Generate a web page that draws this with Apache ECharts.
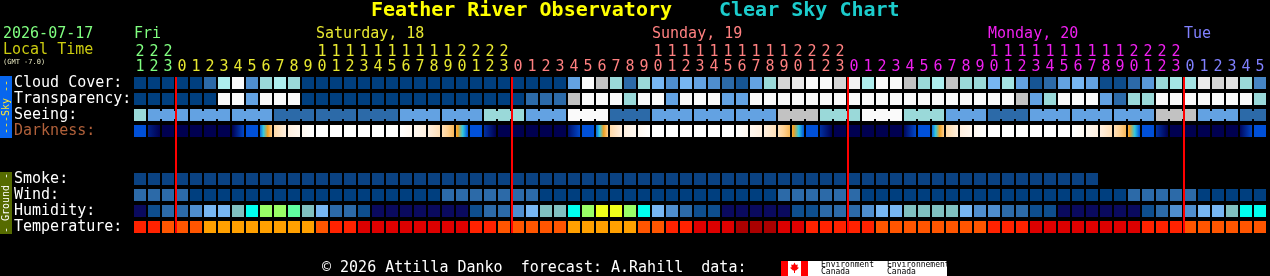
<!DOCTYPE html>
<html>
<head>
<meta charset="utf-8">
<title>Feather River Observatory - Clear Sky Chart</title>
<script src="https://cdn.jsdelivr.net/npm/echarts@6.0.0/dist/echarts.min.js"></script>
<style>
    html, body { margin: 0; padding: 0; background: #000; }
    #csc { width: 1270px; height: 276px; }
</style>
</head>
<body>
<div id="csc"></div>
<script>
// local time (GMT -7), one column per hour
var hours = [21, 22, 23,
    0, 1, 2, 3, 4, 5, 6, 7, 8, 9, 10, 11, 12, 13, 14, 15, 16, 17, 18, 19, 20, 21, 22, 23,
    0, 1, 2, 3, 4, 5, 6, 7, 8, 9, 10, 11, 12, 13, 14, 15, 16, 17, 18, 19, 20, 21, 22, 23,
    0, 1, 2, 3, 4, 5, 6, 7, 8, 9, 10, 11, 12, 13, 14, 15, 16, 17, 18, 19, 20, 21, 22, 23,
    0, 1, 2, 3, 4, 5];
var dayNames = ['Fri', 'Saturday, 18', 'Sunday, 19', 'Monday, 20', 'Tue'];
var rowNames = ['Cloud Cover:', 'Transparency:', 'Seeing:', 'Darkness:', ' ', '  ',
    'Smoke:', 'Wind:', 'Humidity:', 'Temperature:'];

// cloud cover, %
var cloud = [0, 0, 0, 0, 0, 10, 70, 100, 30, 60, 70, 60,
    0, 0, 0, 0, 0, 0, 0, 0, 0, 0, 0, 0, 0, 0, 0, 0, 0, 0, 0,
    40, 100, 80, 60, 10, 60, 50, 30, 50, 40, 30, 10, 5, 40, 60, 85, 90, 100, 100, 85,
    95, 70, 100, 100, 80, 60, 70, 80, 60, 60, 50, 65, 40, 5, 10, 40, 50, 40, 3, 3,
    10, 35, 60, 65, 65, 90, 85, 88, 60, 25];
// transparency: 0 transparent .. 4 poor, 5 too cloudy
var transparency = [0, 0, 0, 0, 0, 0, 5, 5, 2, 5, 5, 5,
    0, 0, 0, 0, 0, 0, 0, 0, 0, 0, 0, 0, 0, 0, 0, 0,
    1, 1, 1, 4, 5, 5, 5, 3, 5, 5, 2, 5, 5, 5, 2, 2,
    5, 5, 5, 5, 5, 5, 5, 5, 5, 5, 5, 5, 5, 5, 5, 5, 5, 5, 5,
    4, 2, 3, 5, 5, 5, 2, 1, 3, 3,
    5, 5, 5, 5, 5, 5, 5, 3];
// seeing: 0 too cloudy, 1 bad .. 5 excellent (3 hour blocks)
var seeing = [2, 3, 3, 3, 3, 3, 3, 3, 3, 3, 4, 4, 4, 4, 4, 4, 4, 4, 4,
    3, 3, 3, 3, 3, 3, 2, 2, 2, 3, 3, 3, 0, 0, 0, 4, 4, 4, 3, 3, 3,
    3, 3, 3, 3, 3, 3, 1, 1, 1, 2, 2, 2, 0, 0, 0, 2, 2, 2, 3, 3, 3,
    4, 4, 4, 3, 3, 3, 3, 3, 3, 3, 3, 3, 1, 1, 1, 3, 3, 3, 4, 4];
// darkness at start / end of each hour: 0 night .. 1 twilight .. 3 sun at horizon .. 6 daylight
var darkness = [[1, 1], [0.4, 0], [0, 0], [0, 0], [0, 0], [0, 0], [0, 0], [0, 0.9], [1, 1],
    [1.2, 4], [4.3, 5], [5, 5.5], [5.5, 6], [6, 6], [6, 6], [6, 6], [6, 6], [6, 6], [6, 6],
    [6, 5.5], [5.5, 5], [5, 4.5], [4.5, 3.5], [3.3, 1], [1, 1], [0.6, 0],
    [0, 0], [0, 0], [0, 0], [0, 0], [0, 0], [0.2, 0.9], [1, 1],
    [1.2, 4], [4.3, 5], [5, 5.5], [5.5, 6], [6, 6], [6, 6], [6, 6], [6, 6], [6, 6], [6, 6],
    [6, 5.5], [5.5, 5], [5, 4.5], [4.5, 3.5], [3.3, 1], [1, 1], [0.6, 0],
    [0, 0], [0, 0], [0, 0], [0, 0], [0, 0], [0.1, 0.9], [1, 1],
    [1.2, 4], [4.3, 5], [5, 5.5], [5.5, 6], [6, 6], [6, 6], [6, 6], [6, 6], [6, 6], [6, 6],
    [6, 5.5], [5.5, 5], [5, 4.5], [4.5, 3.5], [3.3, 1], [1, 1], [0.6, 0],
    [0, 0], [0, 0], [0, 0], [0, 0], [0, 0], [0.1, 0.9], [1, 1]];
// smoke, ug/m^3 (forecast ends earlier)
var smoke = [1, 1, 1, 1, 1, 1, 1, 1, 1, 1, 1, 1, 1, 1, 1, 1, 1, 1, 1, 1, 1, 1, 1,
    1, 1, 1, 1, 1, 1, 1, 1, 1, 1, 1, 1, 1, 1, 1, 1, 1, 1, 1, 1, 1, 1, 1,
    1, 1, 1, 1, 1, 1, 1, 1, 1, 1, 1, 1, 1, 1, 1, 1, 1, 1, 1, 1, 1, 1, 1];
// wind, mph
var wind = [8, 7, 7, 6,
    5, 4, 4, 3, 3, 3, 3, 4, 4, 4, 5, 5, 5, 5, 5, 5, 5, 5,
    6, 7, 8, 8, 7, 7, 6,
    5, 4, 4, 3, 3, 3, 3, 3, 4, 4, 5, 5, 5, 5, 5, 5, 5,
    6, 7, 8, 8, 7, 6,
    5, 5, 4, 4, 3, 3, 3, 3, 4, 4, 4, 5, 5, 5, 5, 5, 5, 5, 5,
    6, 7, 7, 7, 6,
    5, 5, 4, 4, 4];
// relative humidity, %
var humidity = [22, 27, 32, 32, 37, 42, 42, 47, 52, 62, 62, 57, 47, 42, 32, 32, 27,
    22, 22, 22, 22, 22, 22, 22,
    27, 32, 32, 37, 42, 47, 47, 52, 62, 67, 67, 62, 52, 42, 37, 32, 27, 27,
    22, 22, 22, 22, 22,
    27, 27, 32, 32, 32, 37, 42, 42, 47, 47, 47, 47, 42, 37, 37, 32, 32, 27, 27,
    22, 22, 22, 22, 22, 22,
    27, 32, 37, 37, 42, 42, 47, 52, 52];
// temperature, F
var temperature = [81, 80, 72, 71, 70, 65, 64, 63, 63, 62, 62, 63, 65, 71, 78, 79,
    87, 88, 90, 90, 91, 90, 88, 87, 83, 80, 75, 73, 72, 71, 70, 66, 64, 64, 65, 66,
    70, 72, 78, 80, 87, 89, 90, 96, 97, 96, 91, 88, 84, 82, 80, 79, 78,
    76, 75, 74, 73, 72, 72, 72, 74, 78, 80, 82, 87, 88, 90, 91, 91, 90, 88, 87,
    84, 82, 79, 76, 75, 74, 73, 72, 72];

var MONO = 'DejaVu Sans Mono';
var dayColors = ['#80ff80', '#e8e830', '#ff8080', '#f020f0', '#8080ff'];

var chart = echarts.init(document.getElementById('csc'));

// day index of every column
var dayOf = [];
var day = 0;
for (var i = 0; i < hours.length; i++) {
    if (i > 0 && hours[i] === 0) day++;
    dayOf.push(day);
}
var midnights = [];
hours.forEach(function (h, i) { if (h === 0) midnights.push([i, 0]); });

function hex(c) {
    return [parseInt(c.slice(1, 3), 16), parseInt(c.slice(3, 5), 16), parseInt(c.slice(5, 7), 16)];
}
function ramp(stops, v) {
    if (v <= stops[0][0]) return stops[0][1];
    for (var k = 1; k < stops.length; k++) {
        if (v <= stops[k][0]) {
            var t = (v - stops[k - 1][0]) / (stops[k][0] - stops[k - 1][0]);
            var a = hex(stops[k - 1][1]), b = hex(stops[k][1]);
            return 'rgb(' + Math.round(a[0] + (b[0] - a[0]) * t) + ',' +
                Math.round(a[1] + (b[1] - a[1]) * t) + ',' +
                Math.round(a[2] + (b[2] - a[2]) * t) + ')';
        }
    }
    return stops[stops.length - 1][1];
}
function bin(limits, colors, v) {
    for (var k = 0; k < limits.length; k++) {
        if (v < limits[k]) return colors[k];
    }
    return colors[colors.length - 1];
}

var cloudStops = [[0, '#003f7f'], [10, '#2c6aa8'], [20, '#3d7cbc'], [30, '#4f8ece'], [40, '#63a2e2'],
    [50, '#77b6f2'], [60, '#9ad9d9'], [70, '#aeeeee'], [80, '#c2c2c2'], [90, '#eaeaea'], [100, '#fafafa']];
var transColors = ['#003f7f', '#2c6aa8', '#63a2e2', '#9ad9d9', '#c2c2c2', '#fafafa'];
var seeingColors = ['#fafafa', '#c2c2c2', '#9ad9d9', '#63a2e2', '#2c6aa8', '#003f7f'];
var darkStops = [[0, '#000050'], [1, '#0050d8'], [2, '#30c8e0'], [3, '#f0a020'],
    [4, '#ffd090'], [5, '#fff0e0'], [6, '#ffffff']];

function darkFill(s, e) {
    if (s === e) return ramp(darkStops, s);
    var stops = [{ offset: 0, color: ramp(darkStops, s) }];
    for (var k = 0; k < darkStops.length; k++) {
        var lv = darkStops[k][0];
        if (lv > Math.min(s, e) && lv < Math.max(s, e)) {
            stops.push({ offset: (lv - s) / (e - s), color: darkStops[k][1] });
        }
    }
    stops.push({ offset: 1, color: ramp(darkStops, e) });
    stops.sort(function (a, b) { return a.offset - b.offset; });
    return new echarts.graphic.LinearGradient(0, 0, 1, 0, stops);
}

function cellShape(api) {
    var c = api.coord([api.value(0), api.value(1)]);
    var s = api.size([1, 1]);
    return { x: c[0] - s[0] / 2 + 1, y: c[1] - s[1] / 2 + 2, width: s[0] - 2, height: s[1] - 4 };
}

function cellSeries(name, row, values, colorOf) {
    return {
        name: name,
        type: 'custom',
        coordinateSystem: 'cartesian2d',
        silent: true,
        data: values.map(function (v, i) { return [i, row, v]; }),
        renderItem: function (params, api) {
            return { type: 'rect', shape: cellShape(api), style: { fill: colorOf(api.value(2)) } };
        }
    };
}

var seeingSeries = {
    name: 'Seeing',
    type: 'custom',
    coordinateSystem: 'cartesian2d',
    silent: true,
    data: seeing.map(function (v, i) { return [i, 2, v]; }),
    renderItem: function (params, api) {
        var col = api.value(0);
        var r = cellShape(api);
        var fill = seeingColors[api.value(2)];
        var kids = [{ type: 'rect', shape: r, style: { fill: fill } }];
        // join the hours of one 3 hour block
        if (col + 1 < seeing.length && Math.floor((col - 1) / 3) === Math.floor(col / 3)) {
            kids.push({ type: 'rect', shape: { x: r.x + r.width, y: r.y + 2, width: 2, height: r.height - 4 },
                style: { fill: fill } });
        }
        return { type: 'group', children: kids };
    }
};

var darknessSeries = {
    name: 'Darkness',
    type: 'custom',
    coordinateSystem: 'cartesian2d',
    silent: true,
    data: darkness.map(function (d, i) { return [i, 3, d[0], d[1]]; }),
    renderItem: function (params, api) {
        return { type: 'rect', shape: cellShape(api), style: { fill: darkFill(api.value(2), api.value(3)) } };
    }
};

var midnightSeries = {
    name: 'midnight',
    type: 'custom',
    coordinateSystem: 'cartesian2d',
    silent: true,
    z: 5,
    data: midnights,
    renderItem: function (params, api) {
        var top = api.coord([api.value(0), 0]);
        var bot = api.coord([api.value(0), rowNames.length - 1]);
        var s = api.size([1, 1]);
        var x = top[0] - s[0] / 2 + 1;
        return {
            type: 'line',
            shape: { x1: x, y1: top[1] - s[1] / 2 + 2, x2: x, y2: bot[1] + s[1] / 2 - 2 },
            style: { stroke: '#ff0000', lineWidth: 2 }
        };
    }
};

var richHours = {};
dayColors.forEach(function (c, k) {
    richHours['d' + k] = { color: c, fontFamily: MONO, fontSize: 15, lineHeight: 15.5 };
});

chart.setOption({
    backgroundColor: '#000',
    animation: false,
    textStyle: { fontFamily: MONO },
    grid: { left: 133, top: 75, width: 1134, height: 160, containLabel: false, outerBoundsMode: 'none' },
    xAxis: {
        type: 'category',
        position: 'top',
        data: hours.map(function (h, i) { return String(i); }),
        axisLine: { show: false },
        axisTick: { show: false },
        splitLine: { show: false },
        axisLabel: {
            interval: 0,
            margin: 0,
            rich: richHours,
            formatter: function (v, i) {
                var h = hours[i];
                var k = 'd' + dayOf[i];
                return '{' + k + '|' + (h >= 10 ? Math.floor(h / 10) : ' ') + '}\n{' + k + '|' + (h % 10) + '}';
            }
        }
    },
    yAxis: {
        type: 'category',
        inverse: true,
        data: rowNames,
        axisLine: { show: false },
        axisTick: { show: false },
        splitLine: { show: false },
        axisLabel: {
            interval: 0,
            align: 'left',
            margin: 119,
            fontSize: 15,
            fontFamily: MONO,
            color: function (v) { return v === 'Darkness:' ? '#b0603a' : '#ffffff'; }
        }
    },
    series: [
        cellSeries('Cloud Cover', 0, cloud, function (v) { return ramp(cloudStops, v); }),
        cellSeries('Transparency', 1, transparency, function (v) { return transColors[v]; }),
        seeingSeries,
        darknessSeries,
        cellSeries('Smoke', 6, smoke, function (v) {
            return bin([5, 10, 20, 40], ['#0a4282', '#2c6aa8', '#63a2e2', '#9ad9d9', '#c2c2c2'], v);
        }),
        cellSeries('Wind', 7, wind, function (v) {
            return bin([6, 12, 17, 29, 45], ['#003f7f', '#2c6aa8', '#63a2e2', '#9ad9d9', '#c2c2c2', '#fafafa'], v);
        }),
        cellSeries('Humidity', 8, humidity, function (v) {
            return bin([25, 30, 35, 40, 45, 50, 55, 60, 65, 70],
                ['#0a0a5e', '#0e4e8e', '#2c6aa8', '#4f8ece', '#77b6f2', '#80c0c0',
                    '#00ffee', '#5fffa0', '#99ff66', '#eeff1a', '#ffc800'], v);
        }),
        cellSeries('Temperature', 9, temperature, function (v) {
            return bin([68, 77, 86, 95], ['#ffa000', '#ff5500', '#ff2200', '#dd0000', '#aa0000'], v);
        }),
        midnightSeries
    ]
});

function txt(x, y, text, color, size, extra, rotation) {
    var el = {
        type: 'text', x: x, y: y, silent: true,
        style: {
            text: text, fill: color, fontFamily: MONO, fontSize: size || 15,
            align: 'left', textAlign: 'left', verticalAlign: 'middle', textVerticalAlign: 'middle'
        }
    };
    if (extra) {
        for (var key in extra) el.style[key] = extra[key];
    }
    if (rotation) el.rotation = rotation;
    return el;
}

// day names sit over the "10" of a full day, or the first hour of a partial one
var colW = chart.convertToPixel({ xAxisIndex: 0 }, 1) - chart.convertToPixel({ xAxisIndex: 0 }, 0);
var centred = { align: 'center', textAlign: 'center' };
var graphics = [
    txt(371, 11, 'Feather River Observatory', '#ffff00', 20, { fontWeight: 'bold' }),
    txt(719, 11, 'Clear Sky Chart', '#1ccccc', 20, { fontWeight: 'bold' }),
    txt(3, 34.5, '2026-07-17', '#80ff80'),
    txt(3, 50, 'Local Time', '#cccc10'),
    txt(3, 62, '(GMT -7.0)', '#e8e8c0', 7),
    // Sky side bar
    { type: 'rect', silent: true, shape: { x: 0, y: 76, width: 12, height: 62 }, style: { fill: '#0866ee' } },
    txt(6, 107, '---Sky --', '#ffe830', 10, centred, Math.PI / 2),
    // Ground side bar
    { type: 'rect', silent: true, shape: { x: 0, y: 172, width: 12, height: 62 }, style: { fill: '#566b00' } },
    txt(6, 203, '- Ground -', '#ffffff', 10, centred, Math.PI / 2),
    // footer
    txt(322, 268, '\u00a9 2026 Attilla Danko  forecast: A.Rahill  data:', '#ffffff'),
    { type: 'rect', silent: true, shape: { x: 781, y: 261, width: 166, height: 15 }, style: { fill: '#ffffff' } },
    { type: 'rect', silent: true, shape: { x: 781, y: 261, width: 7, height: 15 }, style: { fill: '#ff0000' } },
    { type: 'rect', silent: true, shape: { x: 801, y: 261, width: 7, height: 15 }, style: { fill: '#ff0000' } },
    { type: 'polygon', silent: true, shape: { points: [[794.5, 262.5], [795.8, 265], [797.8, 264.5], [797.3, 267.3],
        [799, 267.8], [796, 270.5], [795, 270.5], [795, 273], [794, 273], [794, 270.5], [793, 270.5],
        [790, 267.8], [791.7, 267.3], [791.2, 264.5], [793.2, 265]] }, style: { fill: '#ff0000' } },
    txt(821, 265, 'Environment', '#000000', 8),
    txt(821, 272, 'Canada', '#000000', 8),
    txt(887, 265, 'Environnement', '#000000', 8),
    txt(887, 272, 'Canada', '#000000', 8)
];
dayNames.forEach(function (name, d) {
    var col = -1;
    for (var i = 0; i < hours.length; i++) {
        if (dayOf[i] !== d) continue;
        if (col < 0) col = i;
        if (hours[i] === 10) { col = i; break; }
    }
    var x = chart.convertToPixel({ xAxisIndex: 0 }, col) - colW / 2 + 1;
    graphics.push(txt(x, 34.5, name, dayColors[d]));
});
chart.setOption({ graphic: graphics });
</script>
</body>
</html>
